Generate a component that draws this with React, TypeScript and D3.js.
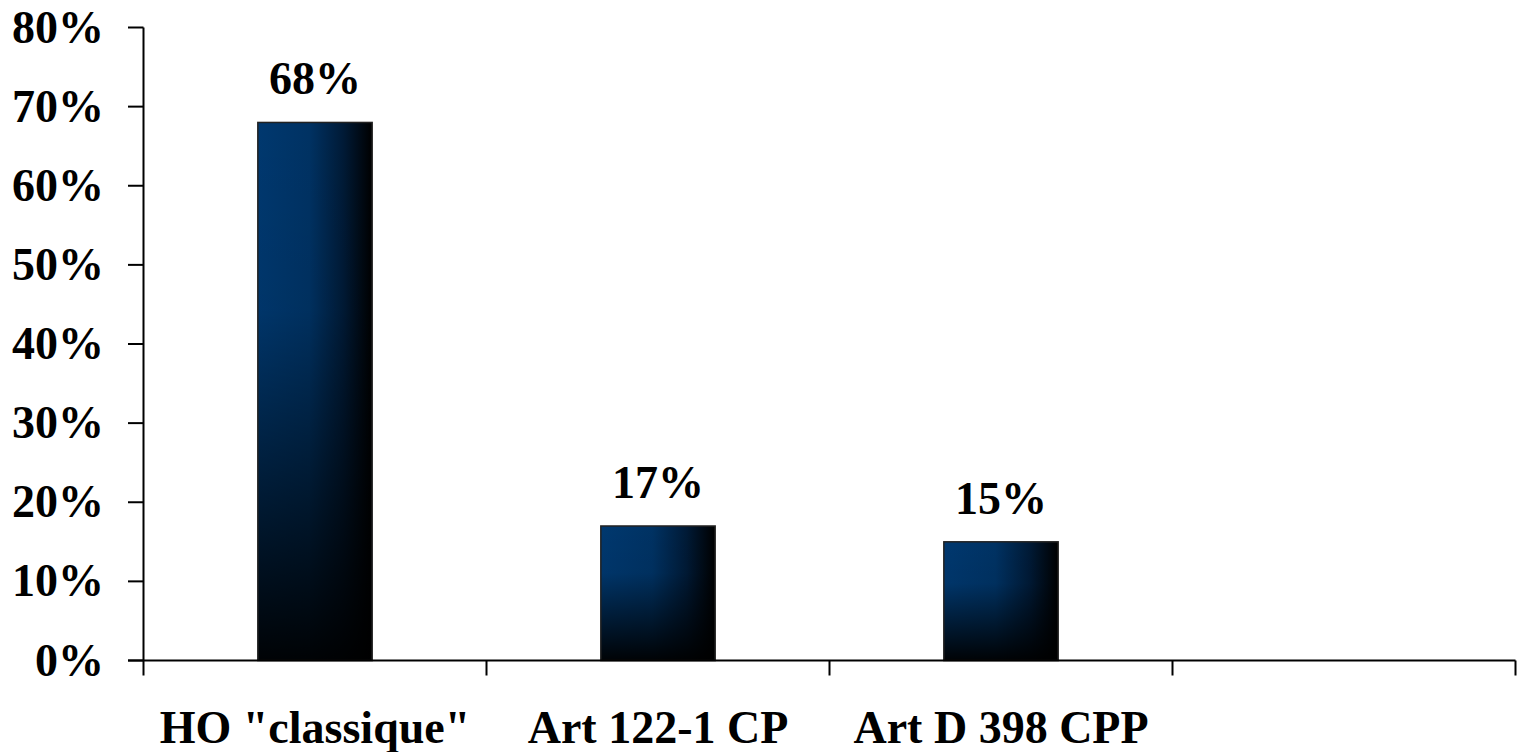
import * as d3 from "d3";
import React from "react";

const categories = ['HO "classique"', "Art 122-1 CP", "Art D 398 CPP", ""];
const values: (number | null)[] = [0.68, 0.17, 0.15, null];
const yTicks = [0, 0.1, 0.2, 0.3, 0.4, 0.5, 0.6, 0.7, 0.8];

const W = 1521;
const H = 752;
const font = "'Liberation Serif', 'Times New Roman', serif";
const fs = 46;

const App = () => {
  const x = d3.scaleBand().domain(categories.map((c, i) => String(i))).range([143.5, 1515.5]).padding(0);
  const y = d3.scaleLinear().domain([0, 0.8]).range([660.5, 27.5]);
  const bw = x.bandwidth();
  const barW = bw / 3;
  const fmt = d3.format(".0%");
  const bounds = categories.map((c, i) => x(String(i))!).concat([x.range()[1]]);

  return (
    <svg width={W} height={H} style={{ position: "absolute", left: 0, top: 0, background: "#fff" }}>
      <defs>
        <linearGradient id="hgrad" x1="0" y1="0" x2="1" y2="0">
          <stop offset="0" stopColor="#00386f" />
          <stop offset="0.45" stopColor="#003263" />
          <stop offset="0.75" stopColor="#001a36" />
          <stop offset="1" stopColor="#000000" />
        </linearGradient>
        <linearGradient id="vgrad" x1="0" y1="0" x2="0" y2="1">
          <stop offset="0" stopColor="#000" stopOpacity="0" />
          <stop offset="0.35" stopColor="#000" stopOpacity="0.05" />
          <stop offset="1" stopColor="#000" stopOpacity="0.95" />
        </linearGradient>
      </defs>

      {values.map((v, i) => {
        if (v == null) return null;
        const cx = x(String(i))! + bw / 2;
        const top = y(v);
        return (
          <g key={i}>
            <rect x={cx - barW / 2} y={top} width={barW} height={y(0) - top} fill="url(#hgrad)" />
            <rect x={cx - barW / 2} y={top} width={barW} height={y(0) - top} fill="url(#vgrad)" stroke="#222" strokeWidth={1.5} />
            <text x={cx} y={top - 28} textAnchor="middle" fontFamily={font} fontWeight="bold" fontSize={fs}>
              {fmt(v)}
            </text>
          </g>
        );
      })}

      {/* y axis */}
      <line x1={143.5} x2={143.5} y1={y(0.8)} y2={y(0)} stroke="#000" strokeWidth={2} />
      {yTicks.map((t) => (
        <g key={t}>
          <line x1={128} x2={143.5} y1={y(t)} y2={y(t)} stroke="#000" strokeWidth={2} />
          <text x={104} y={y(t) + 15} textAnchor="end" fontFamily={font} fontWeight="bold" fontSize={fs}>
            {fmt(t)}
          </text>
        </g>
      ))}

      {/* x axis */}
      <line x1={128} x2={x.range()[1]} y1={y(0)} y2={y(0)} stroke="#000" strokeWidth={2} />
      {bounds.map((b, i) => (
        <line key={i} x1={b} x2={b} y1={y(0)} y2={y(0) + 15} stroke="#000" strokeWidth={2} />
      ))}
      {categories.map((c, i) => (
        <text key={i} x={x(String(i))! + bw / 2} y={743} textAnchor="middle" fontFamily={font} fontWeight="bold" fontSize={fs}>
          {c}
        </text>
      ))}
    </svg>
  );
};

export default App;
